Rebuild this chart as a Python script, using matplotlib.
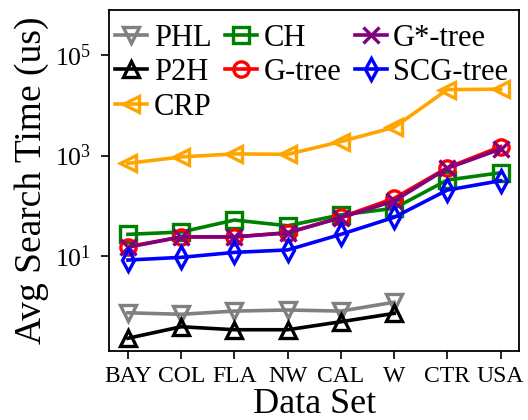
import numpy as np
import matplotlib
matplotlib.use("Agg")
import matplotlib.pyplot as plt

plt.rcParams['font.family'] = ['Liberation Serif', 'DejaVu Serif']
plt.rcParams['mathtext.fontset'] = 'stix'

datasets = ['BAY', 'COL', 'FLA', 'NW', 'CAL', 'W', 'CTR', 'USA']

# avg search time (us)
phl = [0.74, 0.69, 0.80, 0.84, 0.80, 1.2]
p2h = [0.23, 0.39, 0.34, 0.34, 0.49, 0.72]
crp = [700, 940, 1080, 1060, 1900, 3650, 20600, 21000]
ch = [27, 30, 52, 40, 66, 89, 326, 455]
gtree = [15.3, 24, 24, 29, 59, 141, 574, 1510]
gstar = [15, 24, 24, 29, 58, 125, 560, 1350]
scg = [8.3, 9.4, 11.8, 13.2, 27, 59, 206, 316]

series = [
    ('PHL', phl, 'grey', 'v'),
    ('P2H', p2h, 'black', '^'),
    ('CRP', crp, 'orange', '<'),
    ('CH', ch, 'green', 's'),
    ('G-tree', gtree, 'red', 'o'),
    ('G*-tree', gstar, 'purple', 'x'),
    ('SCG-tree', scg, 'blue', 'd'),
]

fig = plt.figure(figsize=(5.28, 4.2), dpi=100)
ax = fig.add_axes([0.207, 0.165, 0.7765, 0.811])

x = np.arange(len(datasets))
for name, vals, color, marker in series:
    ax.plot(x[:len(vals)], vals, color=color, marker=marker, label=name,
            linewidth=2.6, markersize=11, markeredgewidth=2.4,
            markerfacecolor='none')

ax.set_yscale('log')
ax.set_ylim(0.13, 7.9e5)
ax.set_xlim(-0.35, 7.35)
ax.set_yticks([1e1, 1e3, 1e5])
ax.minorticks_off()
ax.set_xticks(x)
ax.set_xticklabels(datasets)
ax.tick_params(axis='both', length=6, width=1.2, direction='out')
ax.tick_params(axis='x', labelsize=17, pad=5)
ax.tick_params(axis='y', labelsize=18.5, pad=7)
for sp in ax.spines.values():
    sp.set_linewidth(1.3)

ax.set_xlabel('Data Set', fontsize=26, labelpad=1)
ax.set_ylabel('Avg Search Time (us)', fontsize=27, labelpad=4)

ax.legend(loc='upper left', bbox_to_anchor=(0.0, 0.978), ncol=3, frameon=False,
          prop={'family': 'Liberation Serif', 'size': 22},
          handlelength=1.05, handletextpad=0.2, columnspacing=0.45,
          labelspacing=0.18, borderaxespad=0.1, borderpad=0.1)

fig.savefig('out.png', dpi=100)
